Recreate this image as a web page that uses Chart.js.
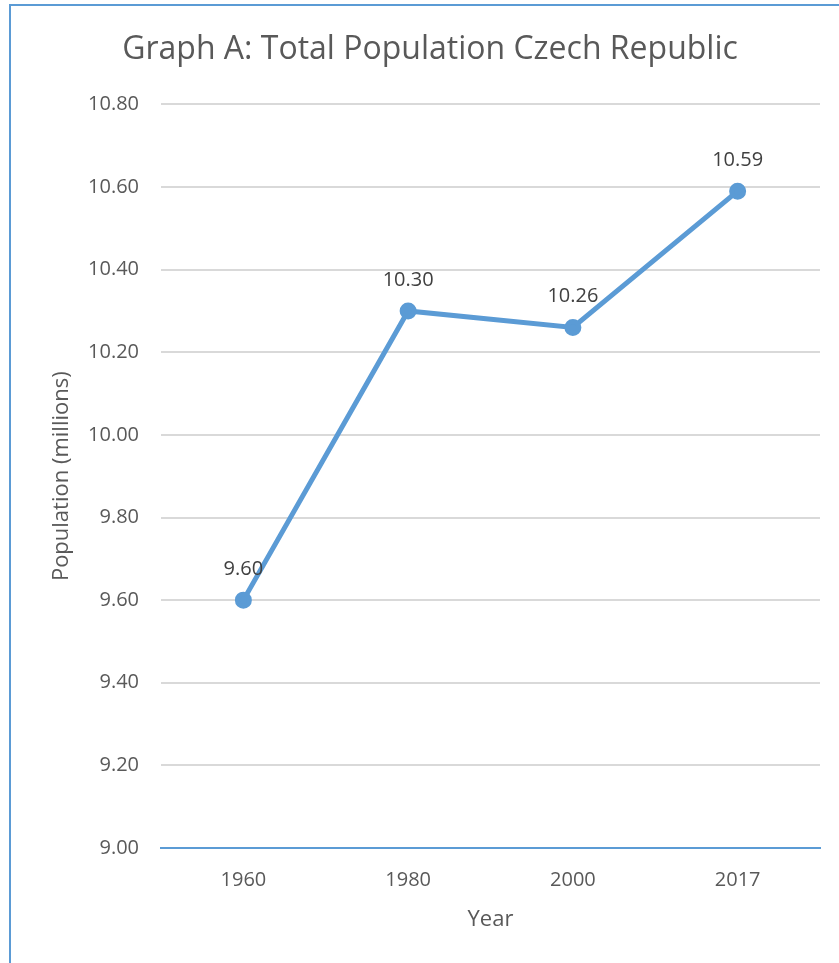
<!DOCTYPE html>
<html>
<head>
<meta charset="utf-8">
<script src="https://cdn.jsdelivr.net/npm/chart.js@4"></script>
<style>
  html, body { margin: 0; padding: 0; background: #fff; }
  #wrap { position: relative; width: 839px; height: 963px; }
  #frame { position: absolute; left: 9px; top: 4px; right: 0; bottom: 0;
           border-left: 2px solid #5b9bd5; border-top: 2px solid #5b9bd5; }
  canvas { position: absolute; left: 0; top: 0; }
</style>
</head>
<body>
<div id="wrap">
  <div id="frame"></div>
  <canvas id="lineChart" width="839" height="963"></canvas>
</div>
<script>
var years = ["1960", "1980", "2000", "2017"];
var population = [9.60, 10.30, 10.26, 10.59];
var yMin = 9.0;
var yMax = 10.8;
var yStep = 0.2;

var textColor = "#595959";
var lineColor = "#5b9bd5";

// value labels above each point
var pointLabels = {
  id: "pointLabels",
  afterDatasetsDraw: function (chart) {
    var ctx = chart.ctx;
    var meta = chart.getDatasetMeta(0);
    ctx.save();
    ctx.font = "20px 'Open Sans'";
    ctx.fillStyle = "#404040";
    ctx.textAlign = "center";
    ctx.textBaseline = "middle";
    meta.data.forEach(function (pt, i) {
      ctx.fillText(population[i].toFixed(2), pt.x, pt.y - 31);
    });
    ctx.restore();
  },
};

new Chart("lineChart", {
  type: "line",
  data: {
    labels: years,
    datasets: [
      {
        label: "Population",
        data: population,
        borderColor: lineColor,
        backgroundColor: lineColor,
        pointBackgroundColor: lineColor,
        pointBorderColor: lineColor,
        pointRadius: 6,
        borderWidth: 5,
        fill: false,
        tension: 0,
      },
    ],
  },
  plugins: [pointLabels],
  options: {
    responsive: false,
    animation: false,
    layout: { padding: { left: 40, right: 19, top: 31, bottom: 20 } },
    plugins: {
      legend: { display: false },
      tooltip: { enabled: false },
      title: {
        display: true,
        text: "Graph A: Total Population Czech Republic",
        color: textColor,
        font: { family: "'Open Sans'", size: 32, weight: "normal" },
        padding: { top: 0, bottom: 35 },
      },
    },
    scales: {
      x: {
        offset: true,
        afterFit: function (scale) { scale.height = 95; },
        grid: { display: false, drawTicks: false },
        border: { display: true, color: lineColor, width: 2 },
        ticks: { color: textColor, font: { family: "'Open Sans'", size: 20 }, padding: 20 },
        title: {
          display: true,
          text: "Year",
          color: textColor,
          font: { family: "'Open Sans'", size: 22 },
          padding: { top: 12, bottom: 10 },
        },
      },
      y: {
        min: yMin,
        max: yMax,
        afterFit: function (scale) { scale.width = 121; },
        grid: {
          drawTicks: false,
          lineWidth: 2,
          color: function (c) { return c.tick && c.tick.value === yMin ? "rgba(0,0,0,0)" : "#d9d9d9"; },
        },
        border: { display: false },
        ticks: {
          stepSize: yStep,
          color: textColor,
          padding: 22,
          font: { family: "'Open Sans'", size: 20 },
          callback: function (v) { return v.toFixed(2); },
        },
        title: {
          display: true,
          text: "Population (millions)",
          color: textColor,
          font: { family: "'Open Sans'", size: 22 },
          padding: { top: 9, bottom: 0 },
        },
      },
    },
  },
});
</script>
</body>
</html>
